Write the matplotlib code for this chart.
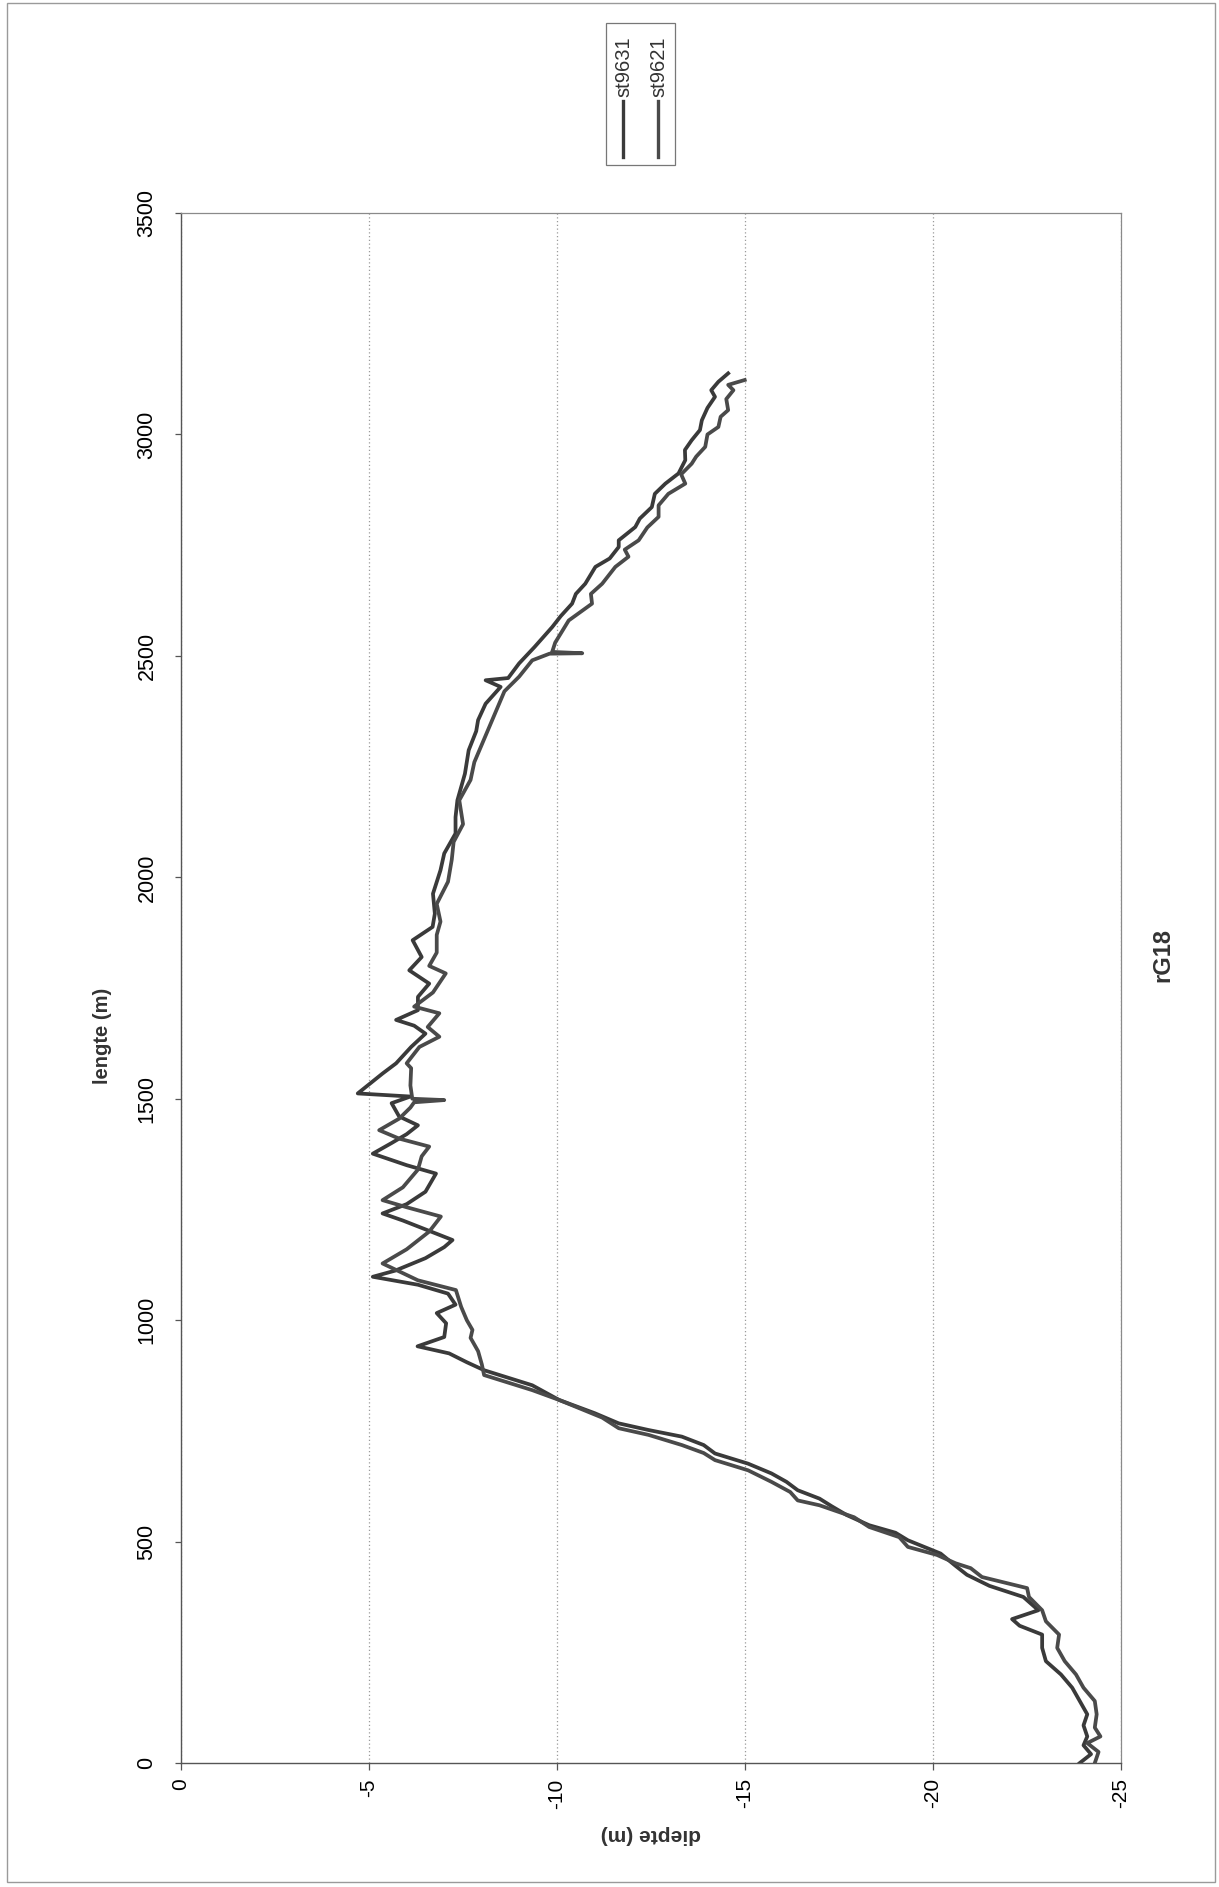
import matplotlib
matplotlib.use("Agg")
import matplotlib.pyplot as plt
from matplotlib.patches import Rectangle
from matplotlib.lines import Line2D

plt.rcParams['font.family'] = ['Liberation Sans', 'DejaVu Sans']
plt.rcParams['axes.unicode_minus'] = False

# st9631: lengte (m) and diepte (m)
lengte_9631 = [0, 20, 40, 60, 85, 110, 140, 170, 200, 230, 260, 290, 310, 325, 345, 375,
               400, 425, 445, 473, 503, 520, 537, 560, 580, 597, 616, 635, 654, 676, 699,
               718, 737, 752, 767, 790, 820, 853, 887, 905, 925, 941, 962, 993, 1016, 1035,
               1060, 1080, 1098, 1112, 1140, 1165, 1181, 1205, 1225, 1241, 1262, 1290, 1331,
               1350, 1376, 1400, 1420, 1440, 1460, 1490, 1505, 1512, 1557, 1580, 1617, 1647,
               1665, 1678, 1700, 1730, 1760, 1790, 1820, 1858, 1888, 1918, 1963, 2016, 2054,
               2099, 2136, 2174, 2234, 2287, 2330, 2355, 2392, 2430, 2445, 2450, 2483, 2520,
               2565, 2590, 2618, 2640, 2663, 2701, 2720, 2746, 2761, 2791, 2810, 2836, 2866,
               2889, 2912, 2942, 2965, 2987, 3010, 3032, 3060, 3085, 3100, 3119, 3138]
diepte_9631 = [-23.9, -24.2, -24.0, -24.1, -24.0, -24.1, -23.9, -23.7, -23.4, -23.0, -22.9,
               -22.9, -22.3, -22.1, -22.8, -22.4, -21.5, -20.9, -20.6, -20.2, -19.33, -19.0,
               -18.3, -17.7, -17.3, -16.98, -16.4, -16.1, -15.7, -15.08, -14.2, -13.9, -13.32,
               -12.43, -11.64, -11.0, -10.05, -9.34, -8.06, -7.6, -7.13, -6.29, -7.0, -7.05,
               -6.8, -7.3, -7.1, -6.3, -5.1, -5.7, -6.5, -7.0, -7.22, -6.5, -5.9, -5.36, -6.0,
               -6.5, -6.78, -6.0, -5.1, -5.6, -6.0, -6.3, -5.8, -5.6, -6.1, -4.7, -5.36, -5.72,
               -6.12, -6.5, -6.2, -5.72, -6.3, -6.3, -6.6, -6.07, -6.4, -6.16, -6.69, -6.75,
               -6.7, -6.9, -7.0, -7.3, -7.3, -7.35, -7.55, -7.65, -7.85, -7.9, -8.1, -8.5,
               -8.1, -8.7, -8.99, -9.4, -9.87, -10.1, -10.4, -10.5, -10.75, -11.02, -11.4,
               -11.64, -11.64, -12.08, -12.2, -12.52, -12.6, -12.88, -13.23, -13.41, -13.4,
               -13.58, -13.8, -13.85, -14.0, -14.2, -14.1, -14.29, -14.55]

# st9621
lengte_9621 = [0, 25, 45, 60, 80, 110, 140, 170, 200, 230, 260, 290, 320, 345, 375, 395,
               420, 440, 451, 470, 488, 510, 533, 555, 582, 593, 612, 635, 661, 684, 700,
               718, 741, 756, 780, 820, 842, 876, 900, 930, 960, 978, 1000, 1030, 1068, 1090,
               1128, 1160, 1200, 1234, 1255, 1271, 1300, 1340, 1370, 1392, 1410, 1429, 1455,
               1480, 1492, 1497, 1500, 1530, 1569, 1580, 1617, 1640, 1662, 1693, 1708, 1740,
               1783, 1800, 1830, 1870, 1900, 1940, 1990, 2040, 2080, 2120, 2174, 2220, 2260,
               2300, 2340, 2380, 2420, 2453, 2490, 2505, 2506, 2509, 2530, 2580, 2618, 2640,
               2663, 2701, 2724, 2740, 2761, 2790, 2814, 2840, 2866, 2889, 2910, 2934, 2950,
               2972, 3000, 3017, 3040, 3055, 3080, 3100, 3112, 3123]
diepte_9621 = [-24.3, -24.4, -24.1, -24.45, -24.3, -24.35, -24.3, -24.0, -23.8, -23.5, -23.3,
               -23.35, -23.0, -22.9, -22.55, -22.5, -21.3, -21.0, -20.6, -20.1, -19.33, -19.1,
               -18.3, -17.9, -16.98, -16.4, -16.2, -15.7, -15.08, -14.2, -13.9, -13.32, -12.43,
               -11.64, -11.2, -10.05, -9.34, -8.06, -8.0, -7.9, -7.7, -7.75, -7.6, -7.45,
               -7.31, -6.3, -5.36, -6.0, -6.6, -6.91, -6.0, -5.36, -5.9, -6.3, -6.4, -6.6,
               -5.8, -5.27, -5.8, -6.1, -6.2, -7.0, -6.15, -6.1, -6.12, -6.0, -6.34, -6.87,
               -6.56, -6.87, -6.2, -6.7, -7.04, -6.6, -6.8, -6.8, -6.9, -6.8, -7.1, -7.2,
               -7.25, -7.5, -7.4, -7.7, -7.8, -8.0, -8.2, -8.4, -8.6, -8.99, -9.34, -9.8,
               -10.67, -9.87, -9.95, -10.31, -10.93, -10.9, -11.2, -11.55, -11.9, -11.8,
               -12.17, -12.4, -12.7, -12.7, -12.96, -13.41, -13.3, -13.58, -13.7, -13.94,
               -14.0, -14.29, -14.35, -14.55, -14.5, -14.69, -14.55, -14.99]

series_names = ["st9631", "st9621"]
lengte_ticks = [0, 500, 1000, 1500, 2000, 2500, 3000, 3500]
diepte_ticks = [0, -5, -10, -15, -20, -25]

line_col = ['#3a3a3a', '#4a4a4a']

fig = plt.figure(figsize=(12.19, 18.87), dpi=100)
ax = fig.add_axes([0.1485, 0.0657, 0.7712, 0.8214])

ax.plot(diepte_9631, lengte_9631, color=line_col[0], lw=2.7, solid_joinstyle='round')
ax.plot(diepte_9621, lengte_9621, color=line_col[1], lw=2.7, solid_joinstyle='round')

ax.set_xlim(0, -25)
ax.set_ylim(0, 3500)
ax.set_xticks(diepte_ticks)
ax.set_xticklabels([str(v) for v in diepte_ticks])
ax.set_yticks(lengte_ticks)
ax.set_yticklabels([str(v) for v in lengte_ticks])
ax.grid(axis='x', linestyle=(0, (1, 2)), color='#9a9a9a', lw=0.9)
ax.grid(axis='y', visible=False)

ax.tick_params(axis='x', direction='out', length=5, width=0.9, color='#555555',
               labelsize=15, labelrotation=90, pad=6)
ax.tick_params(axis='y', direction='out', length=4, width=0.9, color='#555555',
               labelsize=15.5, labelrotation=90, pad=13)
for lab in ax.get_yticklabels():
    lab.set_va('center')

for side in ['left', 'bottom']:
    ax.spines[side].set_color('#555555')
    ax.spines[side].set_linewidth(1.0)
for side in ['top', 'right']:
    ax.spines[side].set_color('#8a8a8a')
    ax.spines[side].set_linewidth(0.9)

# axis titles (chart is printed sideways)
fig.text(0.0837, 0.451, "lengte (m)", rotation=90, ha='center', va='center',
         fontsize=14.5, fontweight='bold', color='#333333')
fig.text(0.534, 0.0276, "diepte (m)", rotation=180, ha='center', va='center',
         fontsize=15, fontweight='bold', color='#333333')
fig.text(0.954, 0.494, "rG18", rotation=90, ha='center', va='center',
         fontsize=17, fontweight='bold', color='#333333')

# legend box, drawn by hand because the entries are rotated
fig.add_artist(Rectangle((0.4971, 0.9126), 0.0566, 0.0753, transform=fig.transFigure,
                         fill=False, ec='#777777', lw=0.9))
leg_x = [0.5111, 0.5398]
for i, name in enumerate(series_names):
    fig.add_artist(Line2D([leg_x[i], leg_x[i]], [0.9168, 0.9465], transform=fig.transFigure,
                          color=line_col[i], lw=2.4))
    fig.text(leg_x[i] + 0.001, 0.9485, name, rotation=90, ha='center', va='bottom',
             fontsize=14.5, color='#333333')

# page border
fig.add_artist(Rectangle((0.0057, 0.0027), 0.991, 0.9957, transform=fig.transFigure,
                         fill=False, ec='#9a9a9a', lw=1.0))

fig.savefig("out.png", dpi=100)
